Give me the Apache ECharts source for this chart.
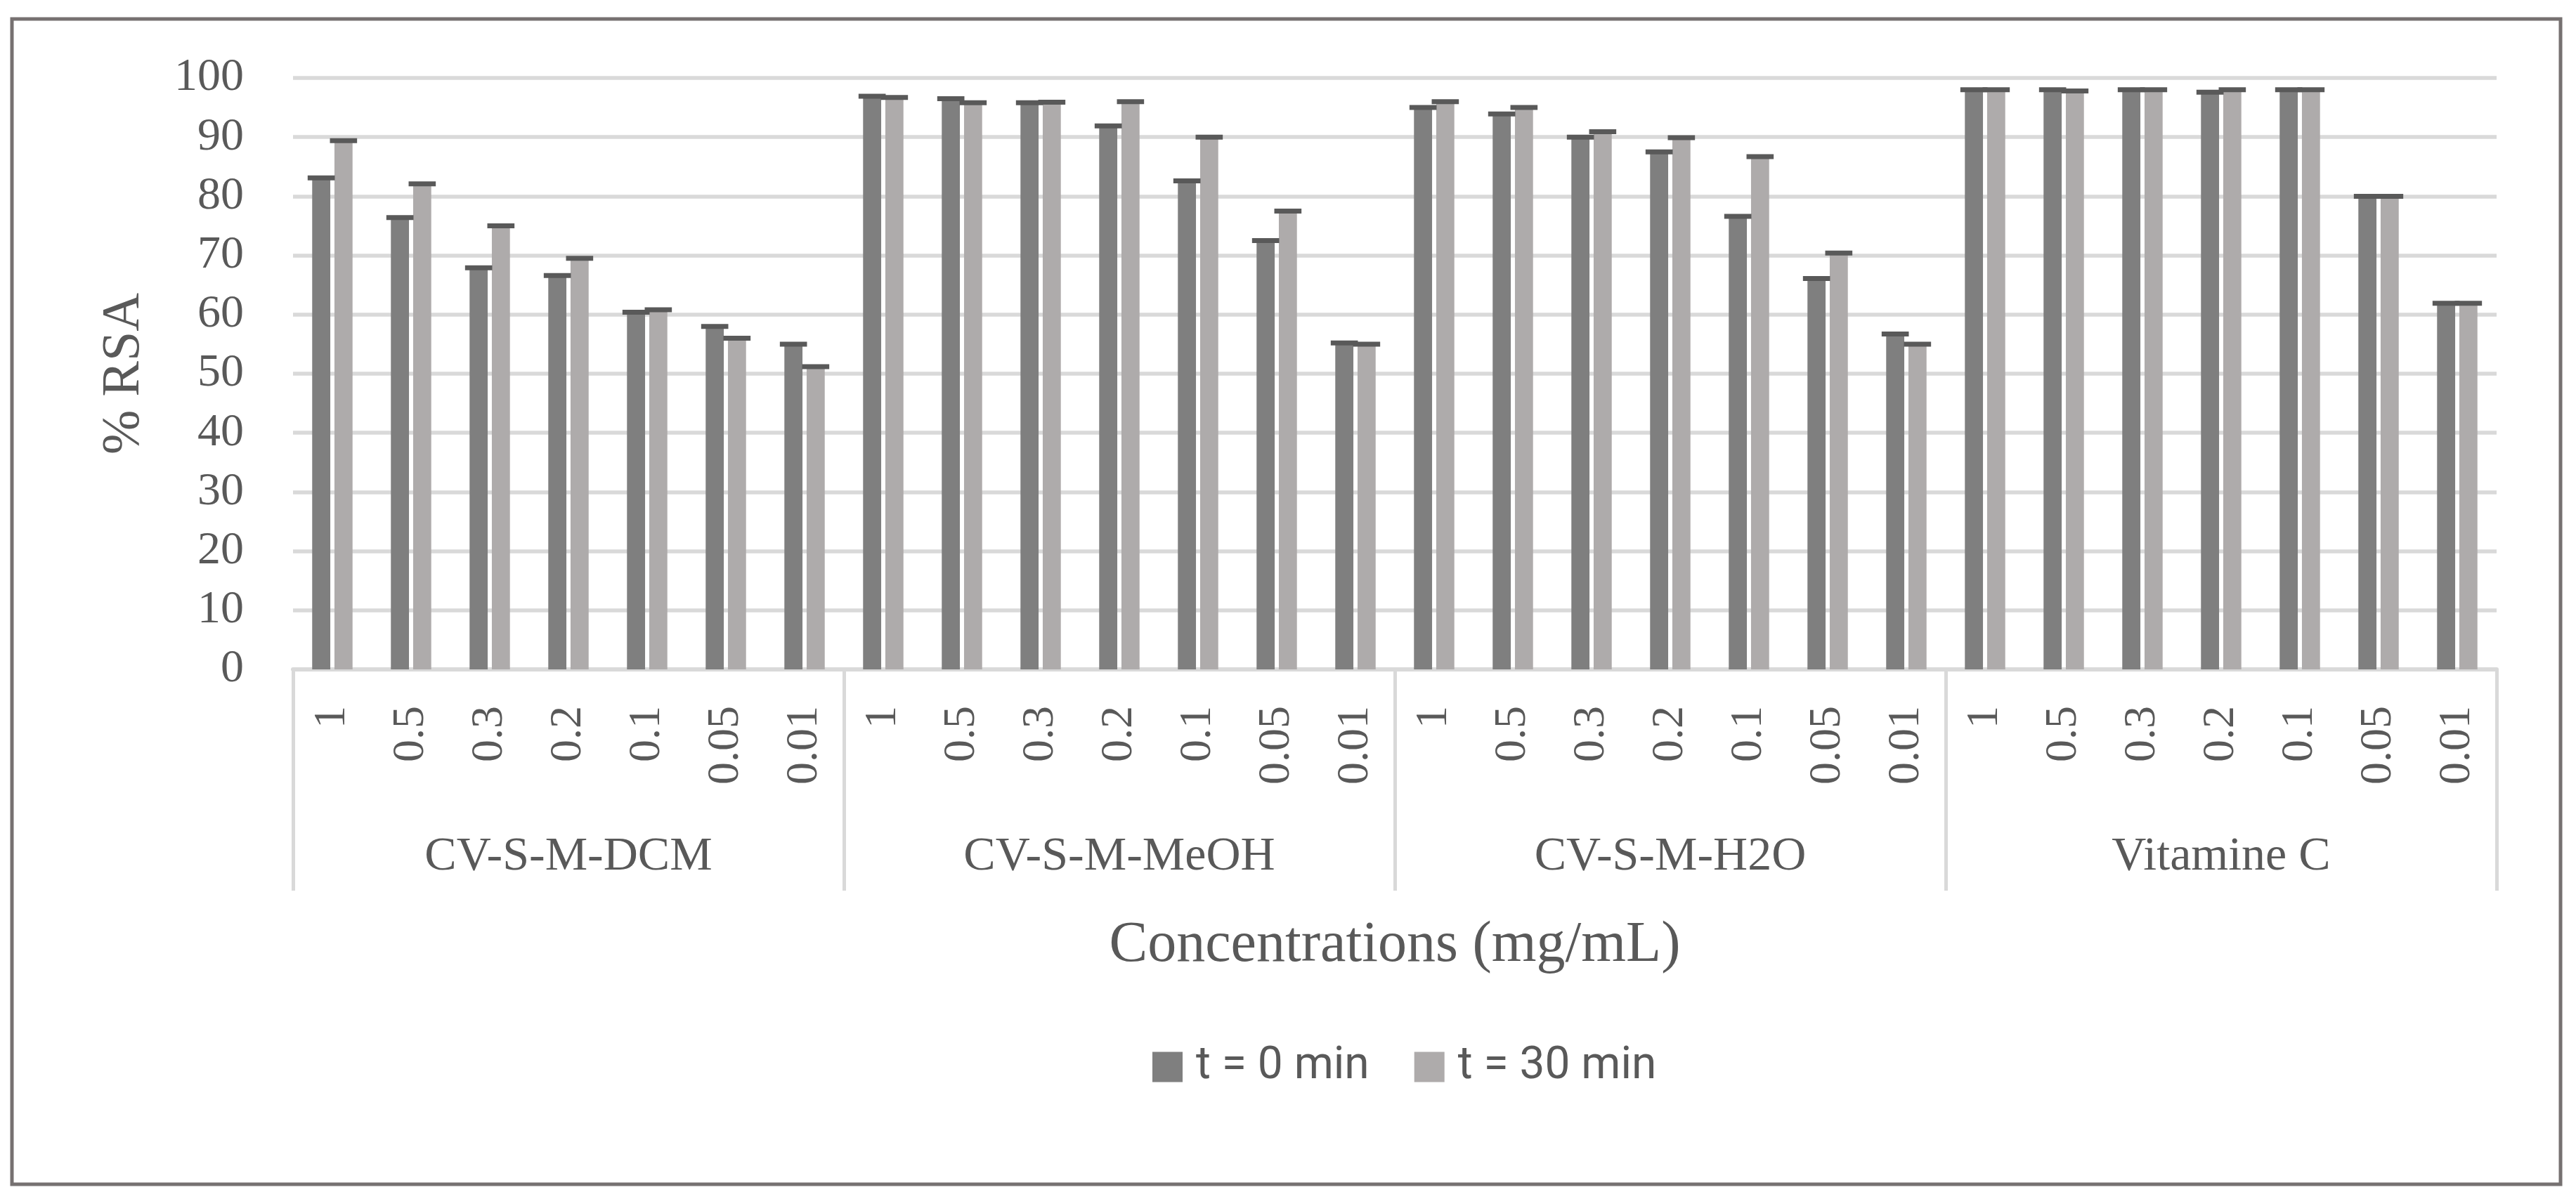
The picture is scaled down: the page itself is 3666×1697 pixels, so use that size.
<!DOCTYPE html>
<html>
<head>
<meta charset="utf-8">
<script src="https://cdn.jsdelivr.net/npm/echarts@6/dist/echarts.min.js"></script>
<style>
html,body{margin:0;padding:0;background:#fff;}
#chart{width:3666px;height:1697px;}
</style>
</head>
<body>
<div id="chart"></div>
<script>
// ---- data ----
var groups = ['CV-S-M-DCM', 'CV-S-M-MeOH', 'CV-S-M-H2O', 'Vitamine C'];
var concentrations = ['1', '0.5', '0.3', '0.2', '0.1', '0.05', '0.01'];
var seriesNames = ['t = 0 min', 't = 30 min'];
var rsaT0 = [83.1, 76.4, 67.9, 66.6, 60.4, 58.0, 55.0,
             96.9, 96.5, 95.8, 91.9, 82.6, 72.5, 55.2,
             95.0, 93.9, 90.0, 87.5, 76.6, 66.1, 56.7,
             98.0, 98.0, 98.0, 97.6, 98.0, 80.0, 61.9];
var rsaT30 = [89.4, 82.1, 75.0, 69.5, 60.8, 56.0, 51.2,
              96.7, 95.8, 95.9, 96.0, 90.0, 77.5, 55.0,
              96.0, 95.0, 90.9, 89.9, 86.7, 70.4, 55.0,
              98.0, 97.8, 98.0, 98.0, 98.0, 80.0, 61.9];
var yTicks = [0, 10, 20, 30, 40, 50, 60, 70, 80, 90, 100];

// ---- derived ----
var innerCats = [];
groups.forEach(function () { concentrations.forEach(function (c) { innerCats.push(c); }); });

var BAR_RATIO = 0.23, GAP_RATIO = 0.23;
var colors = ['#7F7F7F', '#AEABAB'];
var textColor = '#595959';
var serif = '"Liberation Serif", "DejaVu Serif", serif';

function capSeries(values, sideIdx) {
  return {
    type: 'custom',
    xAxisIndex: 0,
    yAxisIndex: 0,
    z: 5,
    silent: true,
    data: values.map(function (v, i) { return [i, v]; }),
    encode: { x: 0, y: 1 },
    renderItem: function (params, api) {
      var p = api.coord([api.value(0), api.value(1)]);
      var band = api.size([1, 0])[0];
      var w = band * BAR_RATIO;
      var off = (w + w * GAP_RATIO) / 2;
      var cx = p[0] + (sideIdx === 0 ? -off : off);
      var half = w * 0.75;
      return {
        type: 'line',
        shape: { x1: cx - half, y1: p[1], x2: cx + half, y2: p[1] },
        style: { stroke: '#595959', lineWidth: 7 }
      };
    }
  };
}

var chart = echarts.init(document.getElementById('chart'));
chart.setOption({
  backgroundColor: '#ffffff',
  animation: false,
  graphic: [{
    type: 'rect',
    shape: { x: 17, y: 27, width: 3627, height: 1659 },
    style: { fill: 'none', stroke: '#767171', lineWidth: 5 },
    silent: true
  }],
  grid: { left: 417, right: 113, top: 111, bottom: 744, containLabel: false },
  legend: {
    data: seriesNames,
    left: 1635,
    top: 1482,
    icon: 'rect',
    itemWidth: 43,
    itemHeight: 43,
    itemGap: 64,
    textStyle: { fontFamily: 'Roboto, "Open Sans", sans-serif', fontSize: 64, color: textColor, padding: [0, 0, 0, 14] }
  },
  xAxis: [{
    type: 'category',
    data: innerCats,
    position: 'bottom',
    axisLine: { show: true, lineStyle: { color: '#D9D9D9', width: 6 } },
    axisTick: { show: false },
    axisLabel: { interval: 0, rotate: 90, margin: 52, fontFamily: serif, fontSize: 64, color: textColor }
  }, {
    type: 'category',
    data: groups,
    position: 'bottom',
    axisLine: { show: false },
    axisTick: { show: true, length: 315, lineStyle: { color: '#D9D9D9', width: 5 } },
    axisLabel: { interval: 0, margin: 267, verticalAlign: 'middle', fontFamily: serif, fontSize: 68, color: textColor },
    name: 'Concentrations (mg/mL)',
    nameLocation: 'middle',
    nameGap: 352,
    nameTextStyle: { fontFamily: serif, fontSize: 82, color: textColor }
  }],
  yAxis: {
    type: 'value',
    min: 0,
    max: 100,
    interval: 10,
    axisLine: { show: false },
    axisTick: { show: false },
    splitLine: { show: true, lineStyle: { color: '#D9D9D9', width: 5.5 } },
    axisLabel: {
      margin: 70, fontFamily: serif, fontSize: 66, color: textColor,
      formatter: function (v) { return yTicks.indexOf(v) >= 0 ? String(v) : ''; }
    },
    name: '% RSA',
    nameLocation: 'middle',
    nameRotate: 90,
    nameGap: 202,
    nameTextStyle: { fontFamily: serif, fontSize: 76, color: textColor }
  },
  series: [{
    name: seriesNames[0],
    type: 'bar',
    xAxisIndex: 0,
    data: rsaT0,
    barWidth: (BAR_RATIO * 100) + '%',
    barGap: (GAP_RATIO * 100) + '%',
    itemStyle: { color: colors[0] }
  }, {
    name: seriesNames[1],
    type: 'bar',
    xAxisIndex: 0,
    data: rsaT30,
    barWidth: (BAR_RATIO * 100) + '%',
    barGap: (GAP_RATIO * 100) + '%',
    itemStyle: { color: colors[1] }
  },
  capSeries(rsaT0, 0),
  capSeries(rsaT30, 1)
  ]
});
</script>
</body>
</html>
